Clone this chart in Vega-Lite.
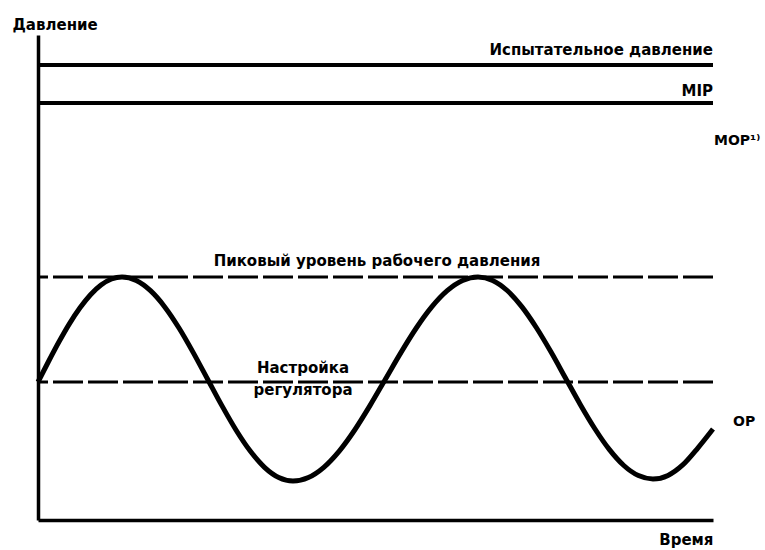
{
  "$schema": "https://vega.github.io/schema/vega-lite/v6.json",
  "autosize": {"type": "none"},
  "width": 675,
  "height": 485,
  "padding": {"left": 38, "top": 35, "right": 52, "bottom": 30},
  "background": "white",
  "config": {"view": {"stroke": null}, "text": {"font": "DejaVu Sans", "fontWeight": "bold", "color": "black"}},
  "datasets": {
    "levels": [
      {"name": "Испытательное давление", "y": 455, "style": "solid"},
      {"name": "MIP", "y": 417, "style": "solid"},
      {"name": "Пиковый уровень рабочего давления", "y": 243, "style": "dashed"},
      {"name": "Настройка регулятора", "y": 138, "style": "dashed"}
    ],
    "wave": [
      {"x": 0, "y": 138}, {"x": 10.5, "y": 158.5}, {"x": 21, "y": 178.2}, {"x": 31.5, "y": 196.4},
      {"x": 42, "y": 212.2}, {"x": 52.5, "y": 225.3}, {"x": 63, "y": 235}, {"x": 73.5, "y": 241},
      {"x": 84, "y": 243}, {"x": 98.25, "y": 239.5}, {"x": 112.5, "y": 229.3}, {"x": 126.75, "y": 213.1},
      {"x": 141, "y": 192}, {"x": 155.25, "y": 167.4}, {"x": 169.5, "y": 141}, {"x": 183.75, "y": 114.6},
      {"x": 198, "y": 90}, {"x": 212.25, "y": 68.9}, {"x": 226.5, "y": 52.7}, {"x": 240.75, "y": 42.5},
      {"x": 255, "y": 39}, {"x": 270.4, "y": 42.5}, {"x": 285.8, "y": 52.7}, {"x": 301.25, "y": 68.9},
      {"x": 316.7, "y": 90}, {"x": 332.1, "y": 114.6}, {"x": 347.5, "y": 141}, {"x": 362.9, "y": 167.4},
      {"x": 378.3, "y": 192}, {"x": 393.75, "y": 213.1}, {"x": 409.2, "y": 229.3}, {"x": 424.6, "y": 239.5},
      {"x": 440, "y": 243}, {"x": 454.6, "y": 239.6}, {"x": 469.2, "y": 229.5}, {"x": 483.75, "y": 213.4},
      {"x": 498.3, "y": 192.5}, {"x": 512.9, "y": 168.2}, {"x": 527.5, "y": 142}, {"x": 542.1, "y": 115.8},
      {"x": 556.7, "y": 91.5}, {"x": 571.25, "y": 70.6}, {"x": 585.8, "y": 54.5}, {"x": 600.4, "y": 44.4},
      {"x": 615, "y": 41}, {"x": 630, "y": 44.6}, {"x": 645, "y": 55.3}, {"x": 660, "y": 72.2},
      {"x": 675, "y": 91}
    ],
    "labelsRight": [
      {"text": "Испытательное давление", "x": 675, "y": 470},
      {"text": "MIP", "x": 675, "y": 429}
    ],
    "labelsLeft": [
      {"text": "MOP¹⁾", "x": 676, "y": 379},
      {"text": "OP", "x": 695, "y": 98}
    ],
    "labelsCenter": [
      {"text": "Пиковый уровень рабочего давления", "x": 339, "y": 259},
      {"text": "Настройка", "x": 265, "y": 152},
      {"text": "регулятора", "x": 265, "y": 130}
    ]
  },
  "layer": [
    {
      "data": {"name": "levels"},
      "transform": [{"filter": "datum.style === 'solid'"}],
      "mark": {"type": "rule", "stroke": "black", "strokeWidth": 4},
      "encoding": {"y": {"field": "y", "type": "quantitative", "scale": {"domain": [0, 485], "nice": false},
          "axis": {"domain": true, "domainColor": "black", "domainWidth": 3.5, "ticks": false, "labels": false, "grid": false,
            "title": "Давление", "titleFont": "DejaVu Sans", "titleFontWeight": "bold", "titleFontSize": 15, "titleColor": "black",
            "titleAngle": 0, "titleAlign": "left", "titleAnchor": null, "titleX": -26, "titleY": -11, "titleBaseline": "middle"}}}
    },
    {
      "data": {"name": "levels"},
      "transform": [{"filter": "datum.style === 'dashed'"}],
      "mark": {"type": "rule", "stroke": "black", "strokeWidth": 3, "strokeDash": [30, 5]},
      "encoding": {"y": {"field": "y", "type": "quantitative"}}
    },
    {
      "data": {"name": "wave"},
      "mark": {"type": "line", "stroke": "black", "strokeWidth": 5, "interpolate": "monotone"},
      "encoding": {
        "x": {"field": "x", "type": "quantitative", "scale": {"domain": [0, 675], "nice": false},
          "axis": {"domain": true, "domainColor": "black", "domainWidth": 3.5, "ticks": false, "labels": false, "grid": false,
            "title": "Время", "titleFont": "DejaVu Sans", "titleFontWeight": "bold", "titleFontSize": 15, "titleColor": "black",
            "titleAlign": "right", "titleAnchor": null, "titleX": 675, "titleY": 19, "titleBaseline": "middle"}},
        "y": {"field": "y", "type": "quantitative"}
      }
    },
    {
      "data": {"name": "labelsRight"},
      "mark": {"type": "text", "align": "right", "baseline": "middle", "fontSize": 15},
      "encoding": {"x": {"field": "x", "type": "quantitative"}, "y": {"field": "y", "type": "quantitative"}, "text": {"field": "text"}}
    },
    {
      "data": {"name": "labelsLeft"},
      "mark": {"type": "text", "align": "left", "baseline": "middle", "fontSize": 14},
      "encoding": {"x": {"field": "x", "type": "quantitative"}, "y": {"field": "y", "type": "quantitative"}, "text": {"field": "text"}}
    },
    {
      "data": {"name": "labelsCenter"},
      "mark": {"type": "text", "align": "center", "baseline": "middle", "fontSize": 15},
      "encoding": {"x": {"field": "x", "type": "quantitative"}, "y": {"field": "y", "type": "quantitative"}, "text": {"field": "text"}}
    }
  ]
}
